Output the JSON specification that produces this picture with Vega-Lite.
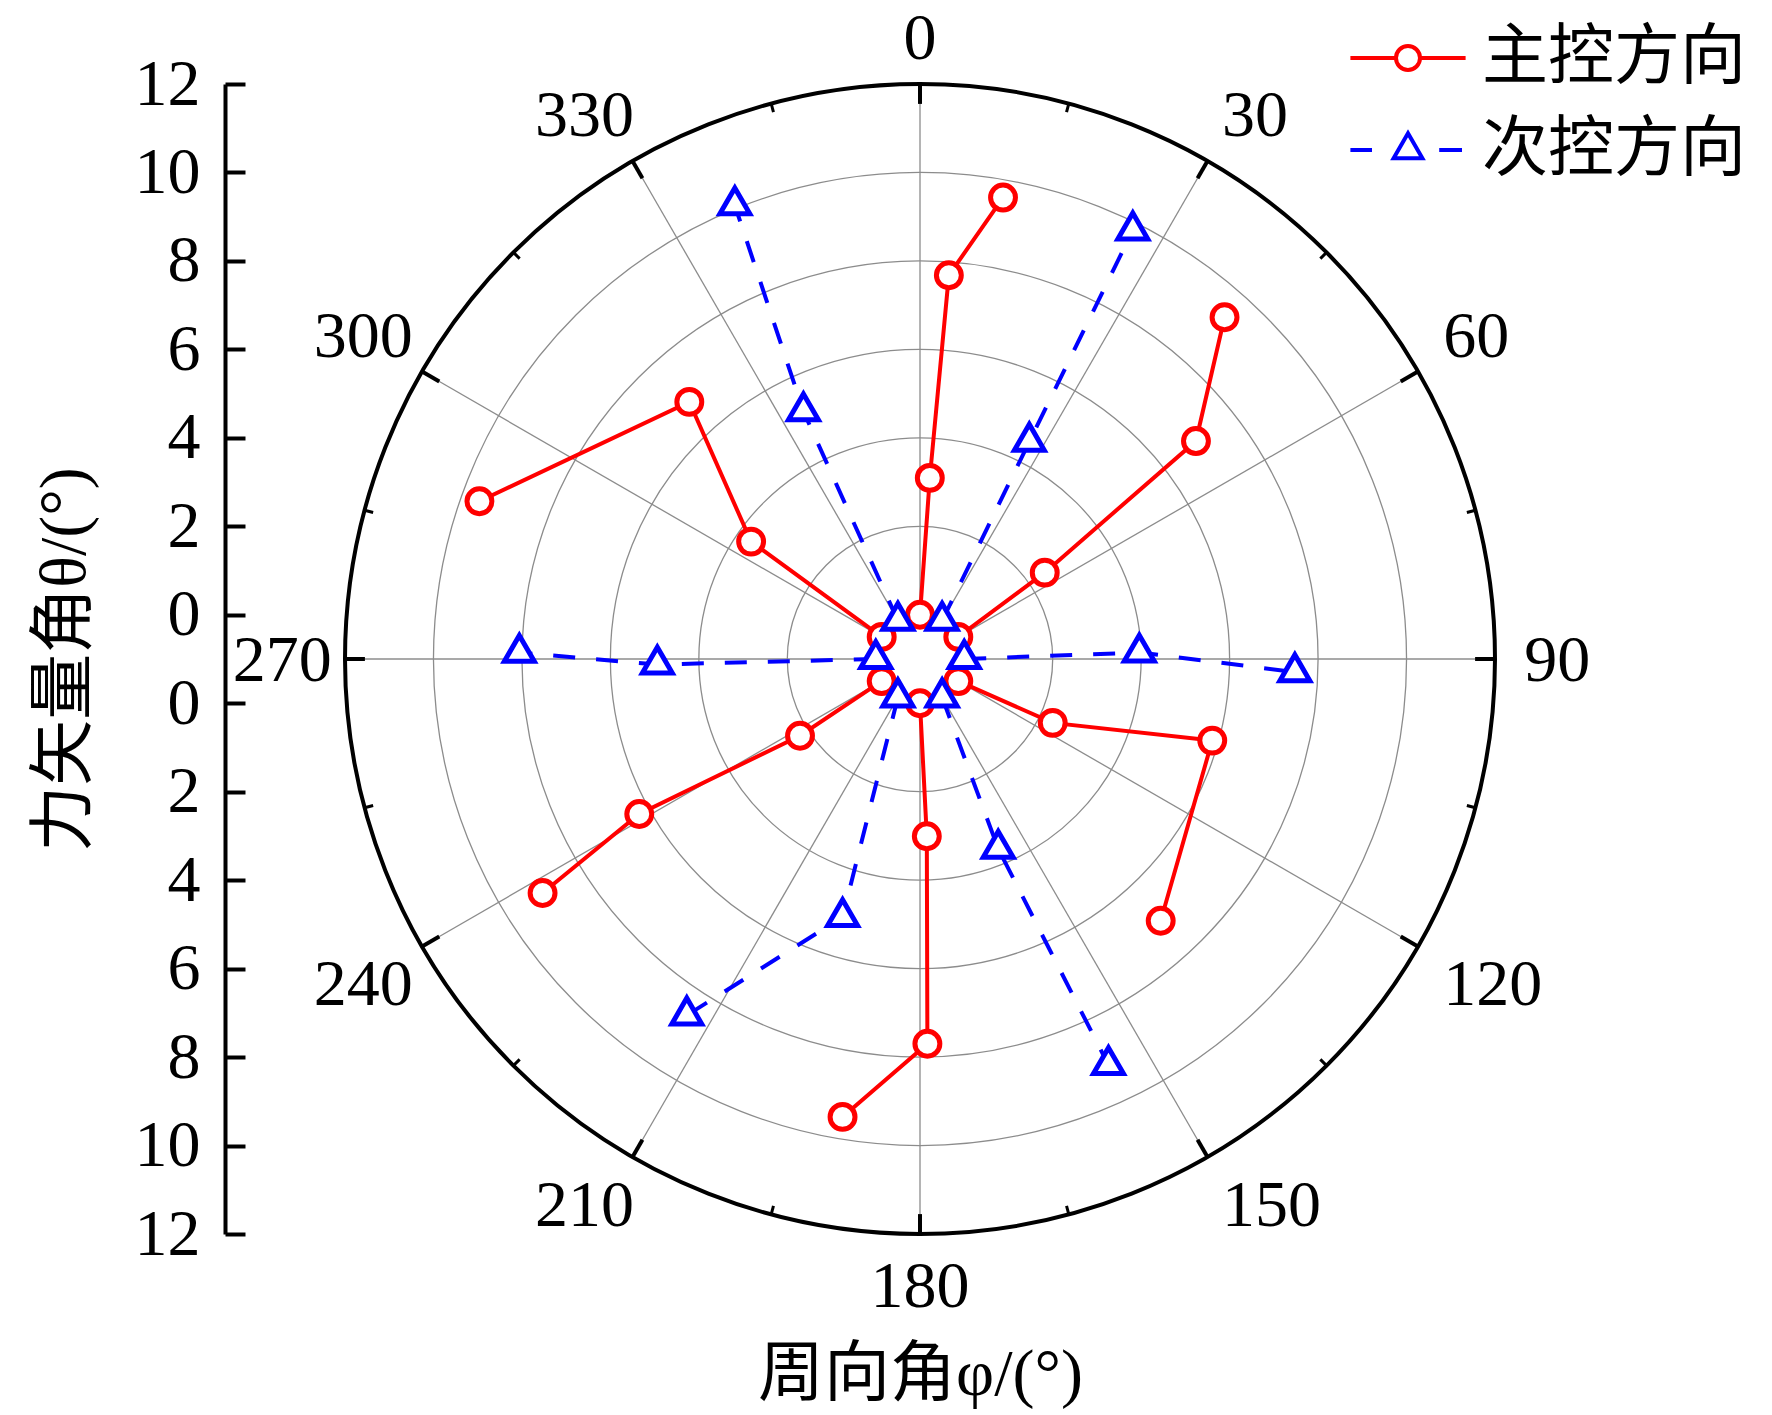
{
  "$schema": "https://vega.github.io/schema/vega-lite/v6.json",
  "width": 1150,
  "height": 1150,
  "autosize": {"type": "none"},
  "padding": {"left": 345, "top": 84, "right": 277, "bottom": 181},
  "background": "white",
  "config": {
    "view": {"stroke": null},
    "font": "Liberation Serif",
    "axis": {"grid": false}
  },
  "datasets": {
    "grid": [{"r": 2}, {"r": 4}, {"r": 6}, {"r": 8}, {"r": 10}],
    "outer": [{"r": 12}],
    "angles": [
      {"phi": 0}, {"phi": 30}, {"phi": 60}, {"phi": 90}, {"phi": 120}, {"phi": 150},
      {"phi": 180}, {"phi": 210}, {"phi": 240}, {"phi": 270}, {"phi": 300}, {"phi": 330}
    ],
    "minor": [
      {"phi": 15}, {"phi": 45}, {"phi": 75}, {"phi": 105}, {"phi": 135}, {"phi": 165},
      {"phi": 195}, {"phi": 225}, {"phi": 255}, {"phi": 285}, {"phi": 315}, {"phi": 345}
    ],
    "main": [
      {"s": "主控方向", "arm": "A", "k": 1, "phi": 0, "theta": 0},
      {"s": "主控方向", "arm": "A", "k": 2, "phi": 3.1, "theta": 3.1},
      {"s": "主控方向", "arm": "A", "k": 3, "phi": 4.3, "theta": 7.7},
      {"s": "主控方向", "arm": "A", "k": 4, "phi": 10.2, "theta": 9.6},
      {"s": "主控方向", "arm": "B", "k": 1, "phi": 60, "theta": 0},
      {"s": "主控方向", "arm": "B", "k": 2, "phi": 55.3, "theta": 2.43},
      {"s": "主控方向", "arm": "B", "k": 3, "phi": 51.7, "theta": 6.95},
      {"s": "主控方向", "arm": "B", "k": 4, "phi": 41.7, "theta": 9.35},
      {"s": "主控方向", "arm": "C", "k": 1, "phi": 120, "theta": 0},
      {"s": "主控方向", "arm": "C", "k": 2, "phi": 115.7, "theta": 2.33},
      {"s": "主控方向", "arm": "C", "k": 3, "phi": 105.6, "theta": 5.86},
      {"s": "主控方向", "arm": "C", "k": 4, "phi": 137.4, "theta": 7.04},
      {"s": "主控方向", "arm": "D", "k": 1, "phi": 180, "theta": 0},
      {"s": "主控方向", "arm": "D", "k": 2, "phi": 177.8, "theta": 3.01},
      {"s": "主控方向", "arm": "D", "k": 3, "phi": 178.9, "theta": 7.7},
      {"s": "主控方向", "arm": "D", "k": 4, "phi": 189.6, "theta": 9.5},
      {"s": "主控方向", "arm": "E", "k": 1, "phi": 240, "theta": 0},
      {"s": "主控方向", "arm": "E", "k": 2, "phi": 237.4, "theta": 2.22},
      {"s": "主控方向", "arm": "E", "k": 3, "phi": 241.1, "theta": 6.25},
      {"s": "主控方向", "arm": "E", "k": 4, "phi": 238.2, "theta": 9.04},
      {"s": "主控方向", "arm": "F", "k": 1, "phi": 300, "theta": 0},
      {"s": "主控方向", "arm": "F", "k": 2, "phi": 304.8, "theta": 3.65},
      {"s": "主控方向", "arm": "F", "k": 3, "phi": 318.1, "theta": 6.81},
      {"s": "主控方向", "arm": "F", "k": 4, "phi": 289.7, "theta": 9.58},
      {"s": "次控方向", "arm": "a", "k": 1, "phi": 30, "theta": 0},
      {"s": "次控方向", "arm": "a", "k": 2, "phi": 26.7, "theta": 4.5},
      {"s": "次控方向", "arm": "a", "k": 3, "phi": 26.4, "theta": 9.82},
      {"s": "次控方向", "arm": "b", "k": 1, "phi": 90, "theta": 0},
      {"s": "次控方向", "arm": "b", "k": 2, "phi": 88.3, "theta": 3.96},
      {"s": "次控方向", "arm": "b", "k": 3, "phi": 92.0, "theta": 7.48},
      {"s": "次控方向", "arm": "c", "k": 1, "phi": 150, "theta": 0},
      {"s": "次控方向", "arm": "c", "k": 2, "phi": 157.6, "theta": 3.64},
      {"s": "次控方向", "arm": "c", "k": 3, "phi": 155.1, "theta": 9.12},
      {"s": "次控方向", "arm": "d", "k": 1, "phi": 210, "theta": 0},
      {"s": "次控方向", "arm": "d", "k": 2, "phi": 196.7, "theta": 5.09},
      {"s": "次控方向", "arm": "d", "k": 3, "phi": 213.2, "theta": 8.63},
      {"s": "次控方向", "arm": "e", "k": 1, "phi": 270, "theta": 0},
      {"s": "次控方向", "arm": "e", "k": 2, "phi": 268.8, "theta": 4.94},
      {"s": "次控方向", "arm": "e", "k": 3, "phi": 270.9, "theta": 8.06},
      {"s": "次控方向", "arm": "f", "k": 1, "phi": 330, "theta": 0},
      {"s": "次控方向", "arm": "f", "k": 2, "phi": 334.8, "theta": 5.19},
      {"s": "次控方向", "arm": "f", "k": 3, "phi": 337.8, "theta": 10.08}
    ]
  },
  "layer": [
    {
      "data": {"name": "grid"},
      "mark": {"type": "arc", "theta": 0, "theta2": 6.2832, "filled": false, "stroke": "#8c8c8c", "strokeWidth": 1.3},
      "encoding": {
        "radius": {"field": "r", "type": "quantitative", "stack": null, "scale": {"type": "linear", "domain": [0, 12], "range": [44.23, 575], "zero": false}}
      }
    },
    {
      "data": {"name": "angles"},
      "transform": [
        {"calculate": "sin(datum.phi * PI / 180)", "as": "sx"},
        {"calculate": "cos(datum.phi * PI / 180)", "as": "cy"},
        {"calculate": "13 * datum.sx", "as": "sx2"},
        {"calculate": "13 * datum.cy", "as": "cy2"}
      ],
      "mark": {"type": "rule", "stroke": "#8c8c8c", "strokeWidth": 1.3},
      "encoding": {
        "x": {
          "field": "sx", "type": "quantitative",
          "scale": {"domain": [-13, 13], "nice": false, "zero": false},
          "axis": {
            "title": "周向角φ/(°)", "labels": false, "ticks": false, "domain": false, "grid": false,
            "titleFont": "Liberation Serif, Noto Sans CJK SC", "titleFontSize": 66, "titleFontWeight": "normal",
            "titleColor": "black", "titlePadding": 108
          }
        },
        "y": {
          "field": "cy", "type": "quantitative",
          "scale": {"domain": [-13, 13], "nice": false, "zero": false},
          "axis": {
            "values": [13, 11, 9, 7, 5, 3, 1, -1, -3, -5, -7, -9, -11, -13],
            "labelExpr": "format(abs(datum.value) - 1, 'd')",
            "offset": 120, "grid": false,
            "domainColor": "black", "domainWidth": 4,
            "tickColor": "black", "tickWidth": 4, "tickSize": -20,
            "labelFont": "Liberation Serif", "labelFontSize": 66, "labelColor": "black",
            "labelPadding": 45, "labelOverlap": false, "labelFlush": false,
            "title": "力矢量角θ/(°)", "titleFont": "Liberation Serif, Noto Sans CJK SC", "titleFontSize": 66,
            "titleFontWeight": "normal", "titleColor": "black", "titlePadding": 36
          }
        },
        "x2": {"field": "sx2"},
        "y2": {"field": "cy2"}
      }
    },
    {
      "data": {"name": "outer"},
      "mark": {"type": "arc", "theta": 0, "theta2": 6.2832, "filled": false, "stroke": "black", "strokeWidth": 4},
      "encoding": {
        "radius": {"field": "r", "type": "quantitative", "stack": null}
      }
    },
    {
      "data": {"name": "angles"},
      "transform": [
        {"calculate": "12.55 * sin(datum.phi * PI / 180)", "as": "tx1"},
        {"calculate": "12.55 * cos(datum.phi * PI / 180)", "as": "ty1"},
        {"calculate": "13 * sin(datum.phi * PI / 180)", "as": "tx2"},
        {"calculate": "13 * cos(datum.phi * PI / 180)", "as": "ty2"}
      ],
      "mark": {"type": "rule", "stroke": "black", "strokeWidth": 4},
      "encoding": {
        "x": {"field": "tx1", "type": "quantitative"},
        "y": {"field": "ty1", "type": "quantitative"},
        "x2": {"field": "tx2"},
        "y2": {"field": "ty2"}
      }
    },
    {
      "data": {"name": "minor"},
      "transform": [
        {"calculate": "12.8 * sin(datum.phi * PI / 180)", "as": "tx1"},
        {"calculate": "12.8 * cos(datum.phi * PI / 180)", "as": "ty1"},
        {"calculate": "13 * sin(datum.phi * PI / 180)", "as": "tx2"},
        {"calculate": "13 * cos(datum.phi * PI / 180)", "as": "ty2"}
      ],
      "mark": {"type": "rule", "stroke": "black", "strokeWidth": 3},
      "encoding": {
        "x": {"field": "tx1", "type": "quantitative"},
        "y": {"field": "ty1", "type": "quantitative"},
        "x2": {"field": "tx2"},
        "y2": {"field": "ty2"}
      }
    },
    {
      "data": {"name": "angles"},
      "mark": {
        "type": "text", "font": "Liberation Serif", "fontSize": 66, "color": "black", "baseline": "alphabetic",
        "align": {"expr": "datum.phi == 0 || datum.phi == 180 ? 'center' : (datum.phi < 180 ? 'left' : 'right')"},
        "dx": {"expr": "datum.phi > 180 ? 16 : 0"},
        "dy": {"expr": "datum.phi == 0 ? 4 : (datum.phi == 90 || datum.phi == 270 ? 22 : ((datum.phi > 90 && datum.phi < 270) ? 44 : 0))"}
      },
      "encoding": {
        "theta": {"field": "phi", "type": "quantitative", "stack": null, "scale": {"type": "linear", "domain": [0, 360], "range": [0, 6.283185307179586]}},
        "radius": {"datum": 12.66, "type": "quantitative"},
        "text": {"field": "phi", "type": "quantitative"}
      }
    },
    {
      "data": {"name": "main"},
      "transform": [
        {"filter": "datum.s == '主控方向'"},
        {"calculate": "(datum.theta + 1) * sin(datum.phi * PI / 180)", "as": "px"},
        {"calculate": "(datum.theta + 1) * cos(datum.phi * PI / 180)", "as": "py"}
      ],
      "mark": {"type": "line", "stroke": "#ff0000", "strokeWidth": 4},
      "encoding": {
        "x": {"field": "px", "type": "quantitative"},
        "y": {"field": "py", "type": "quantitative"},
        "detail": {"field": "arm", "type": "nominal"},
        "order": {"field": "k", "type": "quantitative"}
      }
    },
    {
      "data": {"name": "main"},
      "transform": [
        {"filter": "datum.s == '次控方向'"},
        {"calculate": "(datum.theta + 1) * sin(datum.phi * PI / 180)", "as": "px"},
        {"calculate": "(datum.theta + 1) * cos(datum.phi * PI / 180)", "as": "py"}
      ],
      "mark": {"type": "line", "stroke": "#0000ff", "strokeWidth": 4, "strokeDash": [22, 21]},
      "encoding": {
        "x": {"field": "px", "type": "quantitative"},
        "y": {"field": "py", "type": "quantitative"},
        "detail": {"field": "arm", "type": "nominal"},
        "order": {"field": "k", "type": "quantitative"}
      }
    },
    {
      "data": {"name": "main"},
      "transform": [
        {"filter": "datum.s == '主控方向'"},
        {"calculate": "(datum.theta + 1) * sin(datum.phi * PI / 180)", "as": "px"},
        {"calculate": "(datum.theta + 1) * cos(datum.phi * PI / 180)", "as": "py"}
      ],
      "mark": {"type": "point", "shape": "circle", "filled": false, "fill": "white", "stroke": "#ff0000", "strokeWidth": 5, "size": 620, "opacity": 1},
      "encoding": {
        "x": {"field": "px", "type": "quantitative"},
        "y": {"field": "py", "type": "quantitative"}
      }
    },
    {
      "data": {"name": "main"},
      "transform": [
        {"filter": "datum.s == '次控方向'"},
        {"calculate": "(datum.theta + 1) * sin(datum.phi * PI / 180)", "as": "px"},
        {"calculate": "(datum.theta + 1) * cos(datum.phi * PI / 180)", "as": "py"}
      ],
      "mark": {"type": "point", "shape": "M0,-1.39L1.2,0.69L-1.2,0.69Z", "filled": false, "fill": "white", "stroke": "#0000ff", "strokeWidth": 5, "size": 620, "opacity": 1},
      "encoding": {
        "x": {"field": "px", "type": "quantitative"},
        "y": {"field": "py", "type": "quantitative"}
      }
    },
    {
      "data": {"name": "main"},
      "transform": [
        {"filter": "false"},
        {"calculate": "(datum.theta + 1) * sin(datum.phi * PI / 180)", "as": "px"},
        {"calculate": "(datum.theta + 1) * cos(datum.phi * PI / 180)", "as": "py"}
      ],
      "mark": {"type": "point", "filled": false, "strokeWidth": 4, "size": 576, "opacity": 1},
      "encoding": {
        "x": {"field": "px", "type": "quantitative"},
        "y": {"field": "py", "type": "quantitative"},
        "color": {
          "field": "s", "type": "nominal",
          "scale": {"domain": ["主控方向", "次控方向"], "range": ["#ff0000", "#0000ff"]},
          "legend": {
            "title": null, "orient": "none", "legendX": 1030, "legendY": -59,
            "labelFont": "Noto Sans CJK SC", "labelFontSize": 66, "labelColor": "black", "labelLimit": 500,
            "symbolSize": 576, "symbolStrokeWidth": 4, "labelOffset": 41, "rowPadding": 26, "padding": 0
          }
        },
        "shape": {
          "field": "s", "type": "nominal",
          "scale": {
            "domain": ["主控方向", "次控方向"],
            "range": [
              "M-4.8,0H-1M1,0H4.8M-1,0A1,1 0 1,0 1,0A1,1 0 1,0 -1,0",
              "M-4.8,0H-3M2.6,0H4.5M0,-1.39L1.2,0.69L-1.2,0.69Z"
            ]
          }
        }
      }
    }
  ]
}
